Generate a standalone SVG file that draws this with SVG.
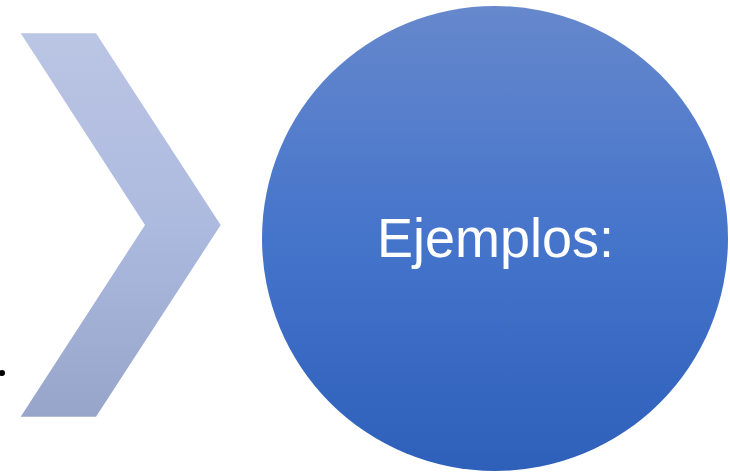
<svg xmlns="http://www.w3.org/2000/svg" width="730" height="472" viewBox="0 0 730 472">
<defs>
<linearGradient id="gChev" x1="0" y1="0" x2="0" y2="1">
<stop offset="0" stop-color="#BBC5E4"/>
<stop offset="0.5" stop-color="#ADBADF"/>
<stop offset="1" stop-color="#97A5CB"/>
</linearGradient>
<linearGradient id="gCirc" x1="0" y1="0" x2="0" y2="1">
<stop offset="0" stop-color="#6688CC"/>
<stop offset="0.5" stop-color="#4574CB"/>
<stop offset="1" stop-color="#2E60BA"/>
</linearGradient>
<style>
.lbl{font-family:"Liberation Sans","Open Sans",sans-serif;fill:#fff;}
</style>
</defs>
<rect width="730" height="472" fill="#fff"/>
<circle cx="2" cy="373" r="3" fill="#000"/>
<g id="chevron">
<polygon points="20.7,33.3 96,33.3 220.7,225 96,416.7 20.7,416.7 145,225" fill="url(#gChev)"/>
</g>
<g id="circle">
<ellipse cx="495" cy="238.5" rx="233" ry="232.5" fill="url(#gCirc)"/>
<text class="lbl" x="377" y="257" font-size="55" textLength="237" lengthAdjust="spacingAndGlyphs">Ejemplos:</text>
</g>
<g id="connectors"/>
</svg>
